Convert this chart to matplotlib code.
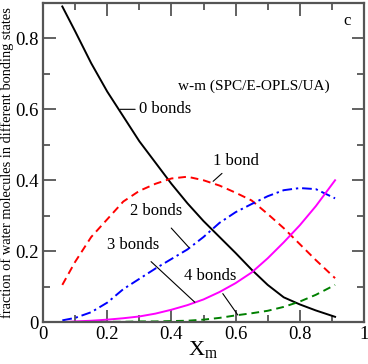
import matplotlib
matplotlib.use("Agg")
import matplotlib.pyplot as plt
from matplotlib.ticker import MultipleLocator

plt.rcParams["font.family"] = ["Liberation Serif", "DejaVu Serif"]
plt.rcParams["mathtext.fontset"] = "stix"

# mole fraction of methanol
x_m = [0.06, 0.10, 0.15, 0.20, 0.25, 0.30, 0.35, 0.40, 0.45,
       0.50, 0.55, 0.60, 0.65, 0.70, 0.75, 0.80, 0.85, 0.91]

bonds0 = [0.89, 0.82, 0.73, 0.65, 0.58, 0.51, 0.45, 0.39, 0.335,
          0.285, 0.24, 0.195, 0.148, 0.105, 0.07, 0.05, 0.033, 0.015]
bonds1 = [0.105, 0.17, 0.24, 0.29, 0.34, 0.37, 0.39, 0.405, 0.41,
          0.40, 0.385, 0.365, 0.343, 0.305, 0.265, 0.22, 0.175, 0.124]
bonds2 = [0.005, 0.012, 0.028, 0.055, 0.093, 0.122, 0.151, 0.178, 0.205,
          0.24, 0.28, 0.31, 0.333, 0.355, 0.372, 0.378, 0.375, 0.349]
bonds3 = [0.0, 0.002, 0.004, 0.007, 0.011, 0.016, 0.024, 0.035, 0.048,
          0.064, 0.085, 0.11, 0.14, 0.18, 0.225, 0.273, 0.327, 0.40]
bonds4 = [0.0, 0.0, 0.0005, 0.001, 0.001, 0.002, 0.002, 0.003, 0.004,
          0.007, 0.012, 0.019, 0.025, 0.032, 0.043, 0.058, 0.077, 0.105]

fig = plt.figure(figsize=(3.68, 3.64), dpi=100)
ax = fig.add_axes([0.117, 0.115, 0.872, 0.877])

lw = 1.4
ax.plot(x_m, bonds0, color="black", lw=lw)
ax.plot(x_m, bonds1, color="red", lw=lw, dashes=(4, 2.5))
ax.plot(x_m, bonds2, color="blue", lw=lw, dashes=(5, 2, 1.2, 2))
ax.plot(x_m, bonds3, color="magenta", lw=lw)
ax.plot(x_m, bonds4, color="green", lw=lw, dashes=(4, 2.5))

ax.set_xlim(0, 1)
ax.set_ylim(0, 0.9)
ax.xaxis.set_major_locator(MultipleLocator(0.2))
ax.xaxis.set_minor_locator(MultipleLocator(0.1))
ax.yaxis.set_major_locator(MultipleLocator(0.2))
ax.yaxis.set_minor_locator(MultipleLocator(0.1))
ax.xaxis.set_major_formatter(plt.FuncFormatter(lambda v, p: f"{v:g}"))
ax.yaxis.set_major_formatter(plt.FuncFormatter(lambda v, p: f"{v:g}"))
ax.tick_params(which="both", direction="in", top=True, right=True,
               color="#555555", labelsize=13.5, pad=3)
ax.tick_params(which="major", length=9, width=1.3)
ax.tick_params(which="minor", length=5, width=1.3)
for s in ax.spines.values():
    s.set_linewidth(1.6)
    s.set_color("#555555")

ax.set_xlabel(r"X$_\mathregular{m}$", fontsize=16, labelpad=-3)
ax.set_ylabel("fraction of water molecules in different bonding states",
              fontsize=10.4, labelpad=1)

fs = 12
ax.annotate("0 bonds", xy=(0.24, 0.60), xytext=(0.3, 0.60), fontsize=fs,
            va="center", ha="left",
            arrowprops=dict(arrowstyle="-", color="black", lw=0.8, shrinkA=1, shrinkB=0))
ax.annotate("1 bond", xy=(0.53, 0.397), xytext=(0.53, 0.455), fontsize=fs,
            va="center", ha="left",
            arrowprops=dict(arrowstyle="-", color="black", lw=0.8, shrinkA=2, shrinkB=0))
ax.annotate("2 bonds", xy=(0.455, 0.21), xytext=(0.27, 0.313), fontsize=fs,
            va="center", ha="left",
            arrowprops=dict(arrowstyle="-", color="black", lw=0.8, shrinkA=6, shrinkB=0))
ax.annotate("3 bonds", xy=(0.473, 0.056), xytext=(0.2, 0.217), fontsize=fs,
            va="center", ha="left",
            arrowprops=dict(arrowstyle="-", color="black", lw=0.8, shrinkA=6, shrinkB=0))
ax.annotate("4 bonds", xy=(0.607, 0.02), xytext=(0.44, 0.13), fontsize=fs,
            va="center", ha="left",
            arrowprops=dict(arrowstyle="-", color="black", lw=0.8, shrinkA=6, shrinkB=0))

ax.text(0.42, 0.665, "w-m (SPC/E-OPLS/UA)", fontsize=11, va="center", ha="left")
ax.text(0.935, 0.85, "c", fontsize=12, va="center", ha="left")

fig.savefig("out.png", dpi=100)
